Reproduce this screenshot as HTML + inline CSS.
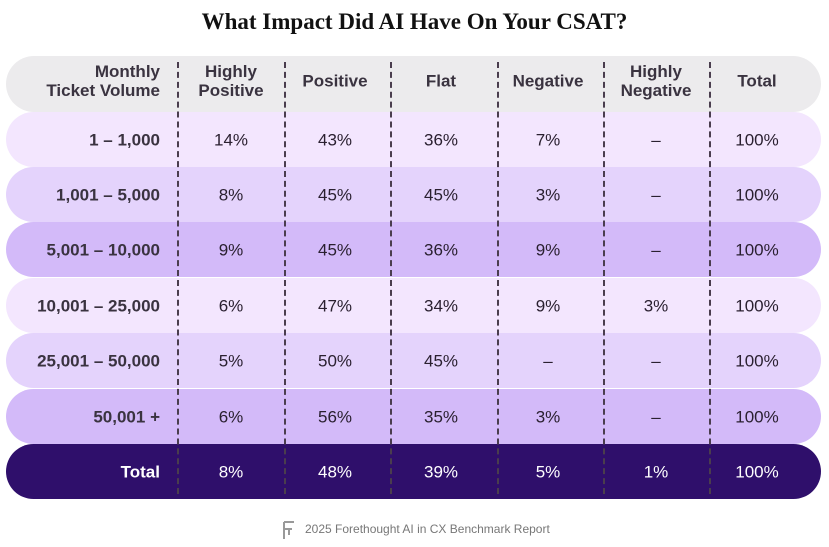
<!DOCTYPE html>
<html><head><meta charset="utf-8"><style>
body{margin:0;width:829px;height:547px;background:#fff;position:relative;overflow:hidden;font-family:"Liberation Sans",sans-serif;}
.title{position:absolute;top:9px;left:0;width:829px;text-align:center;font-family:"Liberation Serif",serif;font-weight:bold;font-size:23px;color:#111;}
.row{position:absolute;left:6px;width:815px;border-radius:28px;}
.cell{position:absolute;text-align:center;font-size:17px;color:#2a2030;line-height:19px;transform:translateY(-50%);}
.hdr{font-weight:bold;color:#3a3340;}
.div{position:absolute;width:0;border-left:2px dashed #4a3d4e;top:62px;height:432px;}
.foot{position:absolute;top:522px;left:305px;font-size:12px;color:#777;}
</style></head><body>
<div class="title">What Impact Did AI Have On Your CSAT?</div>
<div id="tbl"></div>
<svg style="position:absolute;left:280px;top:519px" width="18" height="22"><path d="M4 3h10M4 3v17M4 10h8M9 10v6" stroke="#999" stroke-width="2" fill="none"/></svg>
<div class="foot">2025 Forethought AI in CX Benchmark Report</div>
<script>
const headers=["Monthly<br>Ticket Volume","Highly<br>Positive","Positive","Flat","Negative","Highly<br>Negative","Total"];
const categories=["1 – 1,000","1,001 – 5,000","5,001 – 10,000","10,001 – 25,000","25,001 – 50,000","50,001 +","Total"];
const highlyPositive=["14%","8%","9%","6%","5%","6%","8%"];
const positive=["43%","45%","45%","47%","50%","56%","48%"];
const flat=["36%","45%","36%","34%","45%","35%","39%"];
const negative=["7%","3%","9%","9%","–","3%","5%"];
const highlyNegative=["–","–","–","3%","–","–","1%"];
const total=["100%","100%","100%","100%","100%","100%","100%"];
const cols=[highlyPositive,positive,flat,negative,highlyNegative,total];
const centers=[231,335,441,548,656,757];
const divs=[177,284,390,497,603,709];
const rowTops=[56,112,167,222,278,333,389,444];
const colors=["#ecebed","#f3e6fe","#e4d3fc","#d3baf9","#f3e6fe","#e4d3fc","#d3baf9","#2f0f6b"];
const t=document.getElementById('tbl');
function cell(txt,x,y,cls,right,color){const c=document.createElement('div');c.className='cell '+cls;c.innerHTML=txt;c.style.top=y+'px';
if(right){c.style.right=(829-x)+'px';c.style.textAlign='right';}else{c.style.left=(x-60)+'px';c.style.width='120px';}
if(color)c.style.color=color;


t.appendChild(c);}
for(let r=0;r<8;r++){const d=document.createElement('div');d.className='row';d.style.top=rowTops[r]+'px';d.style.height=(r==0?56:55)+'px';d.style.background=colors[r];


t.appendChild(d);}
divs.forEach(x=>{const d=document.createElement('div');d.className='div';d.style.left=x+'px';


t.appendChild(d);});
const hy=81;
cell(headers[0],160,hy,'hdr',true);
for(let i=1;i<headers.length;i++)cell(headers[i],centers[i-1],hy,'hdr',false);
for(let r=0;r<categories.length;r++){const y=rowTops[r+1]+27.5;const col=r==6?'#fff':null;
cell(categories[r],160,y,'hdr',true,col);
cols.forEach((arr,i)=>cell(arr[r],centers[i],y,'',false,col));}
</script>
</body></html>
